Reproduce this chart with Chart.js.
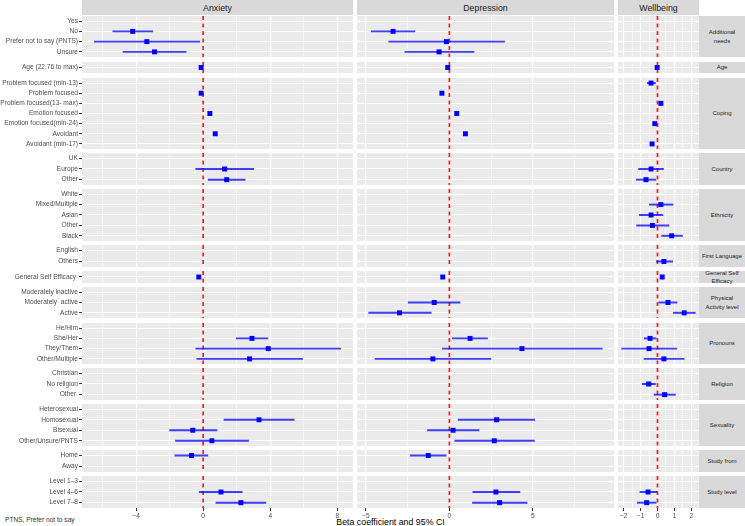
<!DOCTYPE html>
<html>
<head>
<meta charset="utf-8">
<script src="https://cdn.jsdelivr.net/npm/chart.js@4.4.1/dist/chart.umd.min.js"></script>
<style>
  body { margin: 0; background: #fff; font-family: 'Liberation Sans', Arial, sans-serif; }
  #plot { position: relative; width: 745px; height: 526px; overflow: hidden; }
  #plot canvas { position: absolute; }
  .strip { position: absolute; background: #D9D9D9; color: #1A1A1A; display: flex;
           align-items: center; justify-content: center; text-align: center; white-space: pre-line; }
  .top { font-size: 8.8px; }
  .side { font-size: 6px; line-height: 1.35; }
  #xtitle { position: absolute; left: 82px; width: 617px; top: 517px; text-align: center; font-size: 8.8px; color: #000; }
  #note { position: absolute; left: 5px; top: 516px; font-size: 6.6px; color: #333; }
</style>
</head>
<body>
<div id="plot">
  <div id="xtitle">Beta coefficient and 95% CI</div>
  <div id="note">PTNS, Prefer not to say</div>
</div>
<script>
// outcomes (column facets) and groups (row facets)
var outcomes = ['Anxiety', 'Depression', 'Wellbeing'];
var groupNames = ['Additional\nneeds', 'Age', 'Coping', 'Country', 'Ethnicity', 'First Language',
  'General Self\nEfficacy', 'Physical\nActivity level', 'Pronouns', 'Religion', 'Sexuality',
  'Study from', 'Study level'];
var groupTerms = [
  ['Yes', 'No', 'Prefer not to say (PNTS)', 'Unsure'],
  ['Age (22.76 to max)'],
  ['Problem focused (min-13)', 'Problem focused', 'Problem focused(13- max)', 'Emotion focused',
   'Emotion focused(min-24)', 'Avoidant', 'Avoidant (min-17)'],
  ['UK', 'Europe', 'Other'],
  ['White', 'Mixed/Multiple', 'Asian', 'Other', 'Black'],
  ['English', 'Others'],
  ['General Self Efficacy '],
  ['Moderately inactive', 'Moderately  active', 'Active'],
  ['He/Him', 'She/Her', 'They/Them', 'Other/Multiple'],
  ['Christian', 'No religion', 'Other '],
  ['Heterosexual', 'Homosexual', 'Bisexual', 'Other/Unsure/PNTS'],
  ['Home', 'Away'],
  ['Level 1\u20133', 'Level 4\u20136', 'Level 7\u20138']
];

// estimates and 95% CI, one value per term in the order above (null = reference / not in model)
var anxietyEst  = [null, -4.2, -3.36, -2.9,  -0.12,  null, -0.12, null, 0.4, null, 0.72, null,
  null, 1.28, 1.4,  null, null, null, null, null,  null, null,  -0.26,  null, null, null,
  null, 2.91, 3.88, 2.77,  null, null, null,  null, 3.33, -0.62, 0.52,  -0.69, null,  null, 1.06, 2.25];
var anxietyLow  = [null, -5.39, -6.49, -4.78,  -0.18,  null, -0.19, null, 0.33, null, 0.64, null,
  null, -0.44, 0.3,  null, null, null, null, null,  null, null,  -0.33,  null, null, null,
  null, 1.97, -0.44, -0.38,  null, null, null,  null, 1.24, -2.0, -1.65,  -1.69, null,  null, -0.24, 0.76];
var anxietyHigh = [null, -3.0, -0.2, -1.01,  -0.06,  null, -0.05, null, 0.47, null, 0.8, null,
  null, 3.01, 2.5,  null, null, null, null, null,  null, null,  -0.19,  null, null, null,
  null, 3.86, 8.2, 5.93,  null, null, null,  null, 5.43, 0.82, 2.71,  0.28, null,  null, 2.33, 3.74];

var depressionEst  = [null, -3.38, -0.18, -0.62,  -0.1,  null, -0.45, null, 0.44, null, 0.96, null,
  null, null, null,  null, null, null, null, null,  null, null,  -0.4,  null, -0.91, -2.99,
  null, 1.24, 4.35, -0.99,  null, null, null,  null, 2.83, 0.22, 2.69,  -1.27, null,  null, 2.79, 3.01];
var depressionLow  = [null, -4.68, -3.64, -2.67,  -0.15,  null, -0.52, null, 0.38, null, 0.88, null,
  null, null, null,  null, null, null, null, null,  null, null,  -0.46,  null, -2.47, -4.84,
  null, 0.18, -0.42, -4.46,  null, null, null,  null, 0.52, -1.31, 0.32,  -2.35, null,  null, 1.4, 1.38];
var depressionHigh = [null, -2.07, 3.31, 1.48,  -0.05,  null, -0.38, null, 0.5, null, 1.04, null,
  null, null, null,  null, null, null, null, null,  null, null,  -0.34,  null, 0.64, -1.09,
  null, 2.29, 9.17, 2.49,  null, null, null,  null, 5.12, 1.78, 5.1,  -0.2, null,  null, 4.23, 4.66];

var wellbeingEst  = [null, null, null, null,  -0.02,  -0.38, null, 0.2, null, -0.16, null, -0.32,
  null, -0.38, -0.68,  null, 0.2, -0.38, -0.3, 0.84,  null, 0.38,  0.28,  null, 0.62, 1.58,
  null, -0.44, -0.5, 0.38,  null, -0.52, 0.42,  null, null, null, null,  null, null,  null, -0.56, -0.64];
var wellbeingLow  = [null, null, null, null,  -0.06,  -0.6, null, 0.12, null, -0.22, null, -0.4,
  null, -1.12, -1.26,  null, -0.48, -1.08, -1.24, 0.24,  null, -0.06,  0.22,  null, 0.08, 0.94,
  null, -0.78, -2.12, -0.8,  null, -0.9, -0.2,  null, null, null, null,  null, null,  null, -1.04, -1.2];
var wellbeingHigh = [null, null, null, null,  0.02,  -0.12, null, 0.28, null, -0.1, null, -0.24,
  null, 0.36, -0.1,  null, 0.92, 0.32, 0.68, 1.48,  null, 0.9,  0.34,  null, 1.16, 2.24,
  null, -0.08, 1.14, 1.58,  null, -0.12, 1.06,  null, null, null, null,  null, null,  null, -0.04, -0.08];

var majorStep = [4, 5, 1];
var minorStep = [2, 2.5, 0.5];

var series = [
  { est: anxietyEst, low: anxietyLow, high: anxietyHigh },
  { est: depressionEst, low: depressionLow, high: depressionHigh },
  { est: wellbeingEst, low: wellbeingLow, high: wellbeingHigh }
];

// layout
var colLeft = [82, 357, 618];
var colRight = [353, 614, 699];
var yLabelWidth = 82;
var panelStart = 15.7;
var rowUnit = 9.93;
var panelGap = 4.1;
var axisH = 16;
var fontFamily = "'Liberation Sans', Arial, sans-serif";
var ciColour = 'rgba(0, 0, 255, 0.75)';

Chart.defaults.font.family = fontFamily;

// x range like ggplot: data range + 5% each side
var ranges = series.map(function (s) {
  var vals = s.low.concat(s.high, s.est).filter(function (v) { return v != null; });
  var lo = Math.min.apply(null, vals), hi = Math.max.apply(null, vals);
  var pad = (hi - lo) * 0.05;
  return [lo - pad, hi + pad];
});

function isMajor(v, step) {
  var r = v / step;
  return Math.abs(r - Math.round(r)) < 1e-6;
}

function fmt(v) {
  v = Math.round(v * 1000) / 1000;
  if (v === 0) return '0';
  return v < 0 ? '\u2212' + Math.abs(v) : String(v);
}

var panelBg = {
  id: 'panelBg',
  beforeDraw: function (chart) {
    var a = chart.chartArea, ctx = chart.ctx;
    ctx.save();
    ctx.fillStyle = '#EBEBEB';
    ctx.fillRect(a.left, a.top, a.right - a.left, a.bottom - a.top);
    ctx.restore();
  }
};

// red dashed reference line at 0
var zeroLine = {
  id: 'zeroLine',
  beforeDatasetsDraw: function (chart) {
    var a = chart.chartArea, ctx = chart.ctx;
    var x = chart.scales.x.getPixelForValue(0);
    ctx.save();
    ctx.strokeStyle = '#FF1A1A';
    ctx.lineWidth = 1.7;
    ctx.setLineDash([4, 3.5]);
    ctx.beginPath();
    ctx.moveTo(x, a.top);
    ctx.lineTo(x, a.bottom);
    ctx.stroke();
    ctx.restore();
  }
};

function makePanel(canvas, terms, offset, c, last) {
  var s = series[c];
  var points = [], bars = [];
  terms.forEach(function (t, i) {
    var k = offset + i;
    bars.push(s.low[k] == null ? null : [s.low[k], s.high[k]]);
    if (s.est[k] != null) points.push({ x: s.est[k], y: t });
  });
  var major = majorStep[c];

  return new Chart(canvas, {
    type: 'bar',
    data: {
      labels: terms,
      datasets: [
        { type: 'scatter', data: points, pointStyle: 'rect', pointRadius: 3.5,
          backgroundColor: '#0000FF', borderWidth: 0, order: 0 },
        { type: 'bar', data: bars, backgroundColor: ciColour, barThickness: 1.3, order: 1 }
      ]
    },
    options: {
      indexAxis: 'y',
      responsive: false,
      animation: false,
      events: [],
      devicePixelRatio: 1,
      layout: { padding: 0, autoPadding: false },
      plugins: { legend: { display: false }, tooltip: { enabled: false } },
      scales: {
        x: {
          type: 'linear',
          min: ranges[c][0],
          max: ranges[c][1],
          border: { display: false },
          grid: {
            color: '#FFFFFF',
            lineWidth: function (ctx) { return ctx.tick && isMajor(ctx.tick.value, major) ? 1.1 : 0.55; },
            drawTicks: last,
            tickLength: 3,
            tickWidth: 1,
            tickColor: function (ctx) { return ctx.tick && isMajor(ctx.tick.value, major) ? '#333333' : 'rgba(0,0,0,0)'; }
          },
          ticks: {
            display: last,
            stepSize: minorStep[c],
            includeBounds: false,
            autoSkip: false,
            maxRotation: 0,
            padding: 1,
            color: '#4D4D4D',
            font: { size: 6.6 },
            callback: function (v) { return isMajor(v, major) ? fmt(v) : ''; }
          },
          afterFit: function (scale) {
            scale.height = last ? axisH : 0;
            scale.paddingLeft = 0;
            scale.paddingRight = 0;
          }
        },
        y: {
          type: 'category',
          offset: true,
          border: { display: false },
          grid: {
            offset: false,
            color: '#FFFFFF',
            lineWidth: 1.1,
            drawTicks: c === 0,
            tickLength: 3,
            tickWidth: 1,
            tickColor: '#333333'
          },
          ticks: {
            display: c === 0,
            autoSkip: false,
            padding: 1,
            color: '#4D4D4D',
            font: { size: 6.6 }
          },
          afterFit: function (scale) {
            scale.width = c === 0 ? yLabelWidth : 0;
            scale.paddingTop = 0;
            scale.paddingBottom = 0;
          }
        }
      }
    },
    plugins: [panelBg, zeroLine]
  });
}

var plot = document.getElementById('plot');

function addDiv(cls, text, left, top, width, height) {
  var d = document.createElement('div');
  d.className = cls;
  d.textContent = text;
  d.style.left = left + 'px';
  d.style.top = top + 'px';
  d.style.width = width + 'px';
  d.style.height = height + 'px';
  plot.appendChild(d);
}

// column strips
outcomes.forEach(function (name, c) {
  addDiv('strip top', name, colLeft[c], 0, colRight[c] - colLeft[c], 15);
});

var offset = 0;
var y = panelStart;
groupTerms.forEach(function (terms, g) {
  var n = terms.length;
  var h = (n + 0.2) * rowUnit;
  var top = Math.round(y), bottom = Math.round(y + h);
  var last = g === groupTerms.length - 1;
  outcomes.forEach(function (name, c) {
    var left = c === 0 ? colLeft[0] - yLabelWidth : colLeft[c];
    var width = colRight[c] - left;
    var height = bottom - top + (last ? axisH : 0);
    var canvas = document.createElement('canvas');
    canvas.width = width;
    canvas.height = height;
    canvas.style.left = left + 'px';
    canvas.style.top = top + 'px';
    canvas.style.width = width + 'px';
    canvas.style.height = height + 'px';
    plot.appendChild(canvas);
    makePanel(canvas, terms, offset, c, last);
  });
  addDiv('strip side', groupNames[g], 699, top, 46, bottom - top);
  offset += n;
  y += h + panelGap;
});
</script>
</body>
</html>
